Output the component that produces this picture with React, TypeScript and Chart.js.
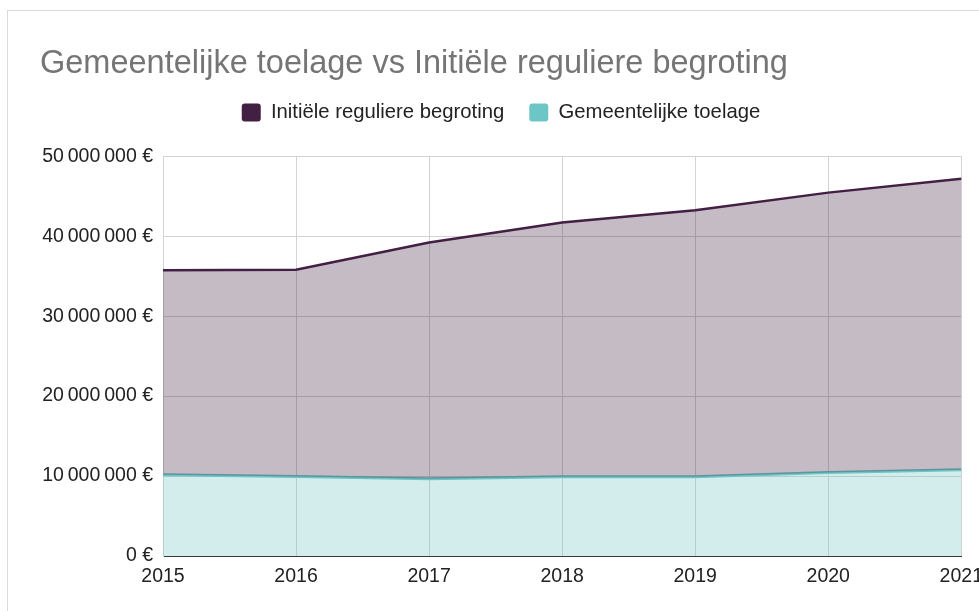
import React, { useEffect, useRef } from 'react';
import { Chart, registerables } from 'chart.js';

Chart.register(...registerables);

const years: string[] = ['2015', '2016', '2017', '2018', '2019', '2020', '2021'];
const initieleBegroting: number[] = [35750000, 35800000, 39200000, 41700000, 43250000, 45450000, 47200000];
const gemeentelijkeToelage: number[] = [10150000, 9950000, 9650000, 9900000, 9900000, 10450000, 10800000];
const yTicks: number[] = [0, 10000000, 20000000, 30000000, 40000000, 50000000];

const titleText = 'Gemeentelijke toelage vs Initiële reguliere begroting';
const seriesNames: string[] = ['Initiële reguliere begroting', 'Gemeentelijke toelage'];

const FONT = "'Liberation Sans', Arial, Helvetica, sans-serif";

const fmtEuro = (v: number) =>
  String(v).replace(/\B(?=(\d{3})+(?!\d))/g, '\u2009') + ' €';

export default function App() {
  const ref = useRef<HTMLCanvasElement | null>(null);

  useEffect(() => {
    if (!ref.current) return;
    const chart = new Chart(ref.current, {
      type: 'line',
      data: {
        labels: years,
        datasets: [
          {
            label: seriesNames[0],
            data: initieleBegroting,
            borderColor: '#431f44',
            backgroundColor: 'rgba(67,34,67,0.31)',
            borderWidth: 2.5,
            pointRadius: 0,
            tension: 0,
            fill: 1,
          },
          {
            label: seriesNames[1],
            data: gemeentelijkeToelage,
            borderColor: '#6cc6c5',
            backgroundColor: 'rgba(108,197,197,0.3)',
            borderWidth: 3,
            pointRadius: 0,
            tension: 0,
            fill: 'origin',
          },
        ],
      },
      options: {
        animation: false,
        responsive: false,
        devicePixelRatio: 1,
        layout: { padding: { left: 32, right: 30, top: 0, bottom: 0 } },
        plugins: {
          tooltip: { enabled: false },
          title: {
            display: true,
            text: titleText,
            align: 'start',
            color: '#757575',
            font: { family: FONT, size: 32.5, weight: 'normal', lineHeight: 1 },
            padding: { top: 36.5, bottom: -2.75 },
          },
          subtitle: {
            display: true,
            text: '',
            position: 'top',
            weight: 500,
            font: { family: FONT, size: 10, lineHeight: 1 },
            padding: { top: 13.7, bottom: 0 },
          },
          legend: {
            display: true,
            position: 'top',
            align: 'center',
            labels: {
              color: '#222222',
              font: { family: FONT, size: 20.3 },
              boxWidth: 19,
              boxHeight: 18,
              padding: 25,
              useBorderRadius: true,
              borderRadius: 3,
              generateLabels: (c: any) =>
                c.data.datasets.map((ds: any, i: number) => ({
                  text: ds.label,
                  fillStyle: ds.borderColor,
                  strokeStyle: ds.borderColor,
                  lineWidth: 0,
                  hidden: false,
                  datasetIndex: i,
                  borderRadius: 3,
                  fontColor: '#222222',
                })),
            },
          },
        },
        scales: {
          x: {
            type: 'category',
            offset: false,
            grid: {
              color: '#d3d3d3',
              lineWidth: 1,
              drawTicks: false,
            },
            border: { display: true, color: '#3a3a3a', width: 1 },
            ticks: {
              color: '#222222',
              font: { family: FONT, size: 19.5 },
              padding: 9,
              maxRotation: 0,
              autoSkip: false,
            },
            afterFit: (scale: any) => {
              scale.height = 55;
            },
          },
          y: {
            type: 'linear',
            min: 0,
            max: 50000000,
            afterBuildTicks: (scale: any) => {
              scale.ticks = yTicks.map((v) => ({ value: v }));
            },
            grid: {
              color: (ctx: any) => (ctx.tick && ctx.tick.value === 0 ? '#3a3a3a' : '#d3d3d3'),
              lineWidth: 1,
              drawTicks: false,
            },
            border: { display: true, color: '#d3d3d3', width: 1 },
            ticks: {
              color: '#222222',
              font: { family: FONT, size: 19.5 },
              padding: 10,
              callback: (v: any) => fmtEuro(Number(v)),
            },
            afterFit: (scale: any) => {
              scale.width = 123;
              scale.paddingTop = 145;
            },
          },
        },
      },
    });
    return () => chart.destroy();
  }, []);

  return (
    <div
      style={{
        position: 'fixed',
        left: 0,
        top: 0,
        width: 979,
        height: 611,
        overflow: 'hidden',
        background: '#ffffff',
      }}
    >
      <div
        style={{
          position: 'absolute',
          left: 7,
          top: 10,
          width: 1100,
          height: 700,
          border: '1px solid #dadada',
          background: '#ffffff',
        }}
      >
        <canvas
          ref={ref}
          width={984}
          height={600}
          style={{ position: 'absolute', left: 0, top: 0, width: 984, height: 600 }}
        />
      </div>
    </div>
  );
}
